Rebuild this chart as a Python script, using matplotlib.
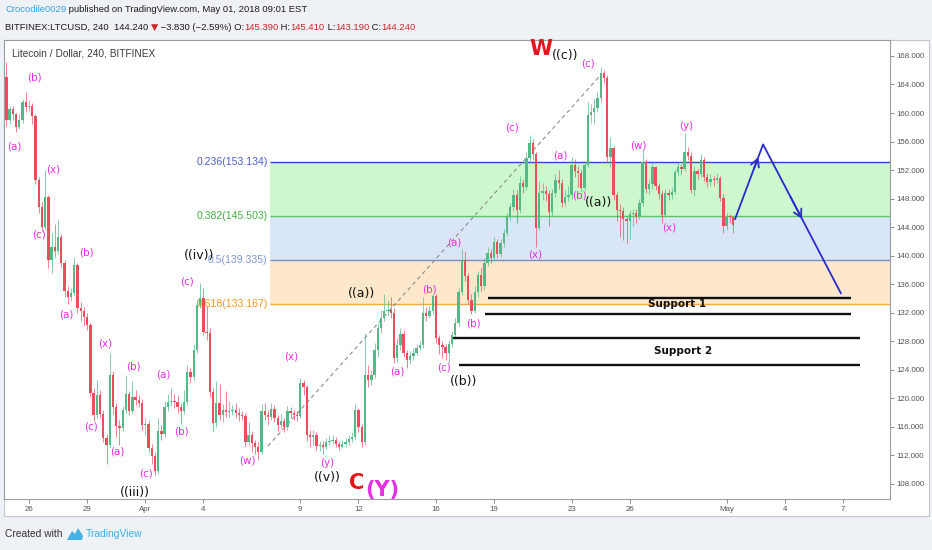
import matplotlib
matplotlib.use('Agg')
import matplotlib.pyplot as plt
import numpy as np
from matplotlib.patches import Rectangle, Polygon
from matplotlib import font_manager

# ---------------- data ----------------
first_open = 165.0
closes = [
    159.0, 160.5, 159.8, 158.0, 159.0, 161.5, 160.8, 161.0, 159.6, 150.6,
    146.8, 144.0, 148.2, 139.4, 141.2, 140.6, 142.6, 139.0, 135.0, 134.2,
    134.8, 138.7, 132.7, 132.2, 131.4, 130.3, 120.7, 117.6, 120.5, 117.8,
    114.4, 113.4, 123.3, 118.8, 116.1, 115.8, 118.4, 120.6, 118.2, 120.2,
    119.8, 119.4, 116.2, 116.4, 113.0, 111.9, 109.8, 115.4, 115.0, 118.8,
    119.5, 119.6, 119.5, 118.8, 118.2, 119.5, 123.7, 123.0, 126.8, 133.1,
    134.1, 129.3, 129.1, 120.9, 116.5, 119.4, 117.6, 118.4, 118.1, 118.2,
    118.3, 117.9, 117.6, 117.5, 113.8, 114.8, 113.7, 113.2, 112.5, 118.2,
    117.7, 117.4, 118.5, 117.2, 116.2, 116.8, 116.0, 118.2, 117.9, 117.6,
    117.5, 122.2, 121.6, 114.8, 114.6, 114.9, 113.3, 113.4, 113.2, 113.8,
    114.0, 114.2, 113.6, 113.2, 113.6, 113.8, 114.3, 114.5, 118.3, 116.0,
    113.8, 123.3, 122.5, 123.3, 126.8, 129.9, 131.3, 132.2, 132.4, 132.0,
    125.6, 127.5, 129.0, 126.3, 125.4, 125.9, 126.4, 127.1, 127.4, 132.0,
    131.5, 132.2, 134.3, 128.4, 127.5, 127.2, 126.3, 127.6, 128.9, 130.6,
    134.9, 139.4, 137.2, 133.8, 132.3, 134.9, 137.3, 135.8, 139.0, 140.4,
    139.6, 141.9, 140.2, 141.8, 143.2, 145.4, 146.8, 148.5, 146.4, 150.2,
    149.6, 153.7, 155.8, 154.3, 143.9, 148.8, 149.0, 148.7, 146.1, 148.8,
    150.6, 150.2, 147.4, 148.2, 148.5, 152.7, 151.9, 151.6, 149.5, 152.7,
    159.7, 160.2, 160.7, 162.1, 165.6, 164.9, 153.8, 155.1, 148.5, 146.4,
    146.2, 145.2, 144.8, 145.8, 146.0, 145.6, 147.4, 153.1, 149.4, 150.0,
    152.4, 149.8, 148.6, 145.7, 148.8, 148.5, 148.9, 151.7, 152.4, 152.1,
    154.5, 154.0, 149.2, 151.8, 151.4, 153.4, 151.0, 150.3, 150.8, 150.6,
    150.9, 148.1, 144.2, 145.4, 145.39, 144.24]
highs = [
    167.2, 161.0, 161.0, 160.0, 159.8, 162.0, 163.0, 161.8, 161.4, 159.9,
    151.0, 147.5, 152.0, 148.5, 143.2, 144.5, 145.0, 143.0, 139.4, 135.8,
    135.5, 139.8, 139.0, 133.5, 132.8, 131.9, 130.6, 121.4, 122.5, 121.2,
    118.4, 115.0, 126.3, 123.8, 119.4, 117.0, 118.9, 123.2, 121.0, 122.4,
    121.2, 120.5, 119.9, 117.2, 116.9, 113.6, 112.4, 117.2, 116.2, 119.6,
    120.6, 121.5, 120.6, 120.5, 119.4, 121.2, 124.6, 124.2, 127.6, 133.8,
    136.2, 135.4, 133.0, 129.8, 121.4, 122.4, 122.0, 119.2, 121.0, 119.6,
    119.0, 119.4, 118.6, 118.2, 118.0, 116.6, 115.4, 114.2, 113.8, 119.2,
    119.4, 118.4, 119.3, 119.0, 117.6, 117.8, 117.2, 118.9, 118.8, 118.4,
    118.2, 122.8, 122.6, 121.9, 115.5, 115.6, 115.2, 114.0, 114.0, 114.4,
    114.8, 114.9, 114.6, 114.0, 114.2, 114.4, 114.9, 115.2, 119.2, 118.7,
    116.4, 129.2, 124.6, 124.0, 127.8, 130.6, 132.4, 134.6, 133.8, 134.2,
    132.6, 128.4, 129.8, 129.6, 126.8, 126.6, 127.0, 127.6, 128.0, 134.2,
    132.8, 133.0, 134.6, 134.6, 128.8, 128.0, 127.6, 128.2, 129.4, 131.2,
    135.4, 141.0, 140.6, 137.6, 134.6, 135.8, 137.9, 138.2, 139.6, 141.2,
    141.0, 142.6, 142.4, 142.4, 143.8, 146.0, 147.4, 149.4, 149.2, 151.2,
    150.8, 154.6, 156.9, 156.4, 154.6, 150.4, 150.2, 149.8, 149.2, 149.4,
    151.4, 152.0, 150.8, 149.2, 149.8, 153.8, 153.6, 152.6, 152.2, 153.2,
    161.6, 161.2, 162.0, 163.0, 166.5, 166.0, 165.4, 156.6, 155.4, 148.9,
    147.2, 146.8, 145.6, 146.4, 146.6, 146.5, 148.0, 155.0, 153.6, 150.6,
    153.0, 152.6, 150.2, 149.2, 149.4, 149.4, 149.6, 152.2, 153.0, 152.8,
    157.2, 155.2, 154.6, 152.6, 152.2, 154.2, 153.8, 151.6, 151.4, 151.2,
    151.6, 151.2, 148.6, 146.0, 145.8, 145.41]
lows = [
    158.2, 158.5, 159.0, 157.3, 157.8, 158.6, 160.2, 160.3, 158.5, 150.0,
    146.0, 143.5, 143.6, 138.2, 137.6, 139.8, 140.2, 138.4, 134.2, 133.2,
    133.6, 134.4, 132.0, 130.9, 130.2, 129.6, 120.2, 116.8, 117.2, 117.2,
    113.8, 110.8, 113.0, 117.8, 114.6, 113.4, 115.4, 118.0, 117.6, 117.8,
    119.0, 118.8, 115.6, 114.8, 112.4, 110.8, 109.2, 109.4, 114.2, 114.6,
    118.2, 118.9, 118.6, 118.0, 116.4, 117.8, 119.0, 122.2, 122.6, 126.4,
    132.6, 128.8, 128.2, 120.2, 115.4, 116.0, 117.0, 116.6, 117.4, 117.2,
    117.6, 117.2, 116.8, 116.9, 113.2, 113.4, 112.4, 112.2, 111.3, 112.2,
    117.0, 116.2, 117.0, 116.6, 115.4, 115.8, 115.2, 115.6, 117.2, 117.0,
    116.8, 117.2, 120.4, 114.0, 113.2, 113.4, 112.8, 112.6, 112.2, 112.9,
    113.4, 113.6, 113.1, 112.7, 113.0, 113.2, 113.5, 113.9, 114.2, 115.2,
    113.2, 113.4, 121.6, 121.8, 122.8, 125.8, 129.2, 130.8, 131.6, 131.2,
    125.0, 125.1, 126.8, 125.8, 124.2, 124.8, 125.4, 126.0, 126.8, 127.0,
    130.8, 131.2, 131.8, 127.8, 126.2, 125.6, 125.4, 125.0, 127.2, 128.4,
    130.2, 134.5, 136.4, 133.2, 131.8, 131.9, 134.2, 135.0, 135.2, 138.6,
    139.0, 139.2, 139.6, 139.8, 141.2, 142.8, 145.0, 146.2, 144.6, 146.0,
    148.8, 149.2, 153.2, 153.4, 141.2, 143.6, 147.8, 147.6, 144.2, 145.6,
    148.2, 149.4, 146.8, 147.0, 147.6, 148.0, 151.0, 149.6, 149.0, 149.2,
    152.4, 158.6, 158.4, 160.2, 161.6, 164.2, 153.2, 152.4, 147.8, 144.8,
    142.6, 142.2, 141.8, 142.4, 144.2, 144.6, 145.2, 147.0, 148.8, 148.6,
    149.4, 149.2, 148.0, 144.6, 145.4, 147.8, 148.0, 148.6, 151.2, 151.4,
    151.8, 153.4, 148.8, 148.4, 150.8, 151.0, 150.4, 149.6, 149.8, 149.8,
    150.2, 147.6, 143.2, 143.6, 144.6, 143.19]

# x in days since Mar 26 00:00; first 4h candle centre
first_candle_day = -7.0 / 6.0
tick_days = [0, 3, 6, 9, 14, 17, 21, 24, 28, 31, 36, 39, 42]
tick_labels = ['26', '29', 'Apr', '4', '9', '12', '16', '19', '23', '26', 'May', '4', '7']
price_ticks = [108, 112, 116, 120, 124, 128, 132, 136, 140, 144, 148, 152, 156, 160, 164, 168]

fib_ratios = ['0.236', '0.382', '0.5', '0.618']
fib_prices = [153.134, 145.503, 139.335, 133.167]
fib_start_day = 12.44

support_levels = [134.06, 131.8, 128.45, 124.66]
support_start = [23.68, 23.53, 21.88, 22.19]
support_end = [42.41, 42.41, 42.88, 42.88]
support_names = ['Support 1', 'Support 2']
support_label_pos = [(33.44, 133.2), (33.75, 126.6)]

trend_x = [12.33, 29.46]
trend_y = [113.3, 165.2]

arrow_x = [36.43, 37.88, 41.9]
arrow_y = [145.1, 155.6, 134.7]

# wave labels: (day, price, text)
minor_labels = [
    (0.26, 165.0, '(b)'), (-0.77, 155.3, '(a)'), (1.24, 152.1, '(x)'),
    (0.51, 142.9, '(c)'), (2.94, 140.5, '(b)'), (1.91, 131.7, '(a)'),
    (3.92, 127.7, '(x)'), (5.37, 124.4, '(b)'), (3.2, 116.1, '(c)'),
    (4.54, 112.6, '(a)'), (6.04, 109.5, '(c)'), (6.91, 123.3, '(a)'),
    (7.89, 115.4, '(b)'), (8.15, 136.4, '(c)'), (13.52, 125.8, '(x)'),
    (11.25, 111.2, '(w)'), (15.37, 110.9, '(y)'), (18.99, 123.8, '(a)'),
    (20.64, 135.3, '(b)'), (21.41, 124.3, '(c)'), (21.93, 141.8, '(a)'),
    (22.96, 130.5, '(b)'), (26.1, 140.1, '(x)'), (24.92, 158.0, '(c)'),
    (27.4, 154.1, '(a)'), (28.38, 148.5, '(b)'), (28.85, 167.0, '(c)'),
    (31.47, 155.5, '(w)'), (33.02, 144.0, '(x)'), (33.9, 158.2, '(y)')]
major_labels = [
    (5.47, 106.8, '((iii))'), (8.77, 140.0, '((iv))'), (15.38, 108.9, '((v))'),
    (17.18, 134.7, '((a))'), (22.44, 122.3, '((b))'), (29.41, 147.4, '((a))'),
    (27.65, 168.1, '((c))')]

# ---------------- figure ----------------
W, H = 932, 550
fig = plt.figure(figsize=(W / 100, H / 100), dpi=100, facecolor='#eef1f5')

def fx(px):
    return px / W

def fy(py):
    return 1 - py / H

available = {f.name for f in font_manager.fontManager.ttflist}
NARROW = [f for f in ['Liberation Sans Narrow', 'DejaVu Sans Condensed'] if f in available]
NARROW += ['Liberation Sans', 'DejaVu Sans']
is_narrow = NARROW[0] in ('Liberation Sans Narrow', 'DejaVu Sans Condensed')
hdr_size = 8 if is_narrow else 6.8
tick_size = 6.5 if is_narrow else 5.7

frame = Rectangle((fx(4), fy(516)), fx(929) - fx(4), fy(40) - fy(516),
                  transform=fig.transFigure, facecolor='white',
                  edgecolor='#c3c6cc', lw=0.8, zorder=-5)
fig.patches.append(frame)

ax = fig.add_axes([fx(4), fy(499), fx(890) - fx(4), fy(40) - fy(499)])
ax.set_zorder(2)
ax.set_facecolor('white')
for s in ax.spines.values():
    s.set_color('#9a9da3')
    s.set_linewidth(0.8)

xmin, xmax = -1.29, 44.43
ax.set_xlim(xmin, xmax)
ax.set_ylim(105.87, 170.24)

# fib retracement zones
fib_fill = ['#cdf7cd', '#d9e6f7', '#fde8cc']
fib_line = ['#3346c4', '#5fc65f', '#7b8fc7', '#f2a93b']
fib_text = ['#5060c8', '#45b045', '#7d98d6', '#f09a20']
for k in range(3):
    ax.fill_between([fib_start_day, xmax], fib_prices[k + 1], fib_prices[k],
                    color=fib_fill[k], lw=0, zorder=1)
for k in range(4):
    ax.hlines(fib_prices[k], fib_start_day, xmax, color=fib_line[k], lw=1.0, zorder=2)
    ax.text(fib_start_day - 0.12, fib_prices[k], f'{fib_ratios[k]}({fib_prices[k]:.3f})',
            color=fib_text[k], fontsize=7.6, ha='right', va='center',
            family=['Liberation Sans', 'DejaVu Sans'], zorder=3)

# dashed trend line
ax.plot(trend_x, trend_y, color='#8a8a8a', lw=0.8, ls=(0, (3.5, 3)), zorder=3)

# candles
closes_a = np.array(closes)
opens_a = np.concatenate([[first_open], closes_a[:-1]])
n = len(closes_a)
xs = first_candle_day + np.arange(n) / 6.0
up = closes_a >= opens_a
up_col, dn_col = '#53b987', '#eb4d5c'
cols = np.where(up, up_col, dn_col)
ax.vlines(xs, lows, highs, colors=cols, lw=0.7, alpha=0.7, zorder=4)
body_lo = np.minimum(opens_a, closes_a)
body_h = np.maximum(np.abs(closes_a - opens_a), 0.15)
ax.bar(xs, body_h, bottom=body_lo, width=0.12, color=cols, lw=0, zorder=5)

# support lines
for lvl, a, b in zip(support_levels, support_start, support_end):
    ax.hlines(lvl, a, b, color='#111111', lw=1.7, zorder=6)
for (d, p), name in zip(support_label_pos, support_names):
    ax.text(d, p, name, fontsize=7.5, fontweight='bold', color='#111111',
            ha='center', va='center', zorder=7)

# projected path
blue = '#2a2ad0'
ax.plot(arrow_x, arrow_y, color=blue, lw=1.3, zorder=6, solid_capstyle='round')
for k, frac in [(0, 0.83), (1, 0.5)]:
    x0, y0, x1, y1 = arrow_x[k], arrow_y[k], arrow_x[k + 1], arrow_y[k + 1]
    tip = (x0 + frac * (x1 - x0), y0 + frac * (y1 - y0))
    back = (x0 + (frac - 0.15) * (x1 - x0), y0 + (frac - 0.15) * (y1 - y0))
    ax.annotate('', xy=tip, xytext=back,
                arrowprops=dict(arrowstyle='->,head_length=0.55,head_width=0.3',
                                color=blue, lw=1.3, shrinkA=0, shrinkB=0), zorder=6)

# wave labels
mag = '#e52fe5'
for d, p, t in minor_labels:
    ax.text(d, p, t, color=mag, fontsize=7.5, ha='center', va='center', zorder=8)
for d, p, t in major_labels:
    ax.text(d, p, t, color='#111111', fontsize=9, ha='center', va='center', zorder=8,
            clip_on=False)
ax.text(26.42, 169.0, 'W', color='#e8141c', fontsize=15, fontweight='bold',
        ha='center', va='center', zorder=8, clip_on=False)
ax.text(16.92, 108.1, 'C', color='#e8141c', fontsize=15, fontweight='bold',
        ha='center', va='center', zorder=8)
ax.text(18.25, 107.2, '(Y)', color='#e52fe5', fontsize=15, fontweight='bold',
        ha='center', va='center', zorder=8)

# axes ticks
ax.yaxis.tick_right()
ax.set_yticks(price_ticks)
ax.set_yticklabels([f'{v:.3f}' for v in price_ticks])
ax.set_xticks(tick_days)
ax.set_xticklabels(tick_labels)
ax.tick_params(axis='both', direction='out', length=3, width=0.7, color='#8a8d93',
               labelsize=tick_size, labelcolor='#555555')
ax.tick_params(axis='y', pad=1.5)
ax.tick_params(axis='x', pad=2)
for lab in ax.get_xticklabels() + ax.get_yticklabels():
    lab.set_family(NARROW)

ax.text(0.009, 1 - 14 / 459, 'Litecoin / Dollar, 240, BITFINEX', transform=ax.transAxes,
        fontsize=7.3, color='#3c3c3c', ha='left', va='center', family=NARROW)

# header texts
renderer = fig.canvas.get_renderer()

def seq_text(x_px, y_px, pieces, size):
    x = x_px
    for s, color, fam in pieces:
        t = fig.text(fx(x), fy(y_px), s, color=color, fontsize=size, ha='left',
                     va='center', family=fam)
        x += t.get_window_extent(renderer).width

dark = '#1c1c1c'
red = '#c62828'
seq_text(5, 10, [('Crocodile0029', '#37a3dd', NARROW),
                 (' published on TradingView.com, May 01, 2018 09:01 EST', dark, NARROW)],
         hdr_size)
seq_text(5, 27, [('BITFINEX:LTCUSD, 240  ', dark, NARROW),
                 ('144.240 ', dark, NARROW),
                 ('\u25bc', red, ['DejaVu Sans']),
                 (' \u22123.830 (\u22122.59%) O:', dark, NARROW),
                 ('145.390', red, NARROW), (' H:', dark, NARROW),
                 ('145.410', red, NARROW), (' L:', dark, NARROW),
                 ('143.190', red, NARROW), (' C:', dark, NARROW),
                 ('144.240', red, NARROW)], hdr_size)

# footer
fig.text(fx(5), fy(534), 'Created with', fontsize=7.4, color='#333333', ha='left',
         va='center', family=NARROW)
logo = Polygon([[fx(67), fy(540)], [fx(72), fy(531)], [fx(75), fy(534)], [fx(78), fy(528)],
                [fx(83), fy(536)], [fx(82), fy(540)]], closed=True,
               transform=fig.transFigure, facecolor='#43b2e6', edgecolor='none')
fig.patches.append(logo)
fig.text(fx(86), fy(534), 'TradingView', fontsize=7.4, color='#3bb0e6', ha='left',
         va='center', family=NARROW)

fig.savefig('out.png', dpi=100, facecolor=fig.get_facecolor())
